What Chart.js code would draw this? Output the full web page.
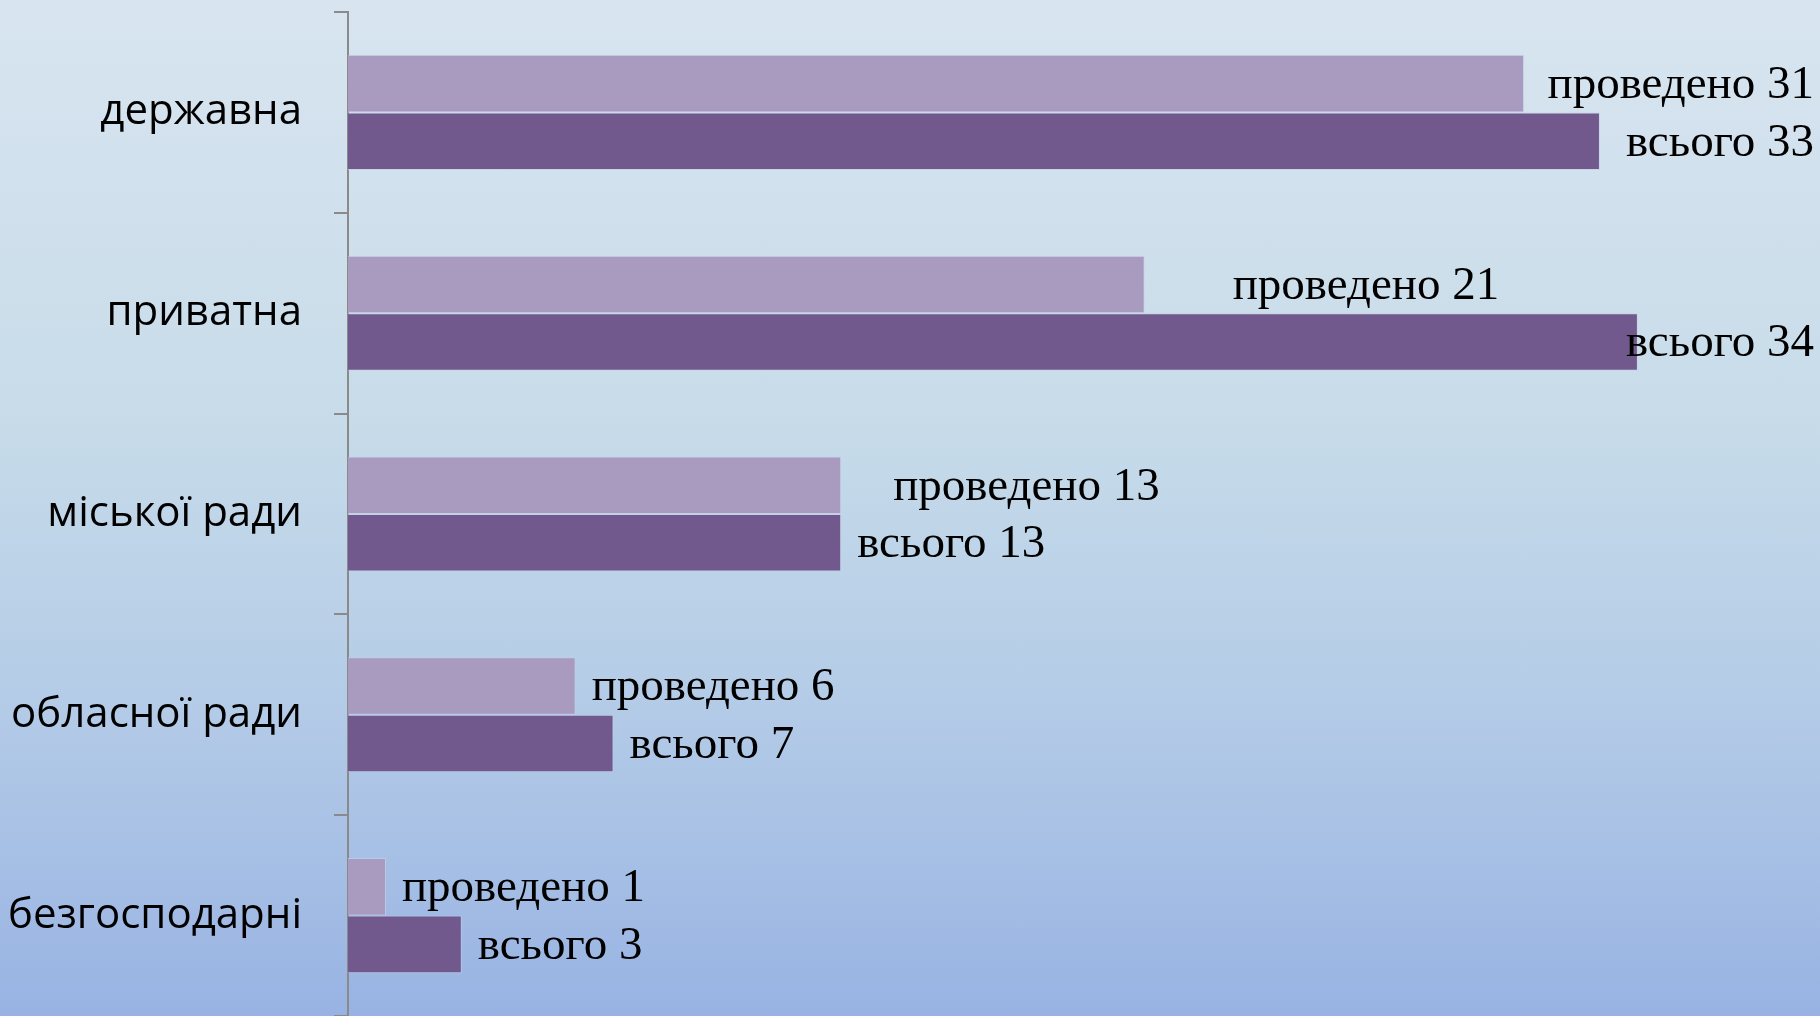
<!DOCTYPE html>
<html>
<head>
<meta charset="utf-8">
<script src="https://cdn.jsdelivr.net/npm/chart.js@4.4.1/dist/chart.umd.min.js"></script>
<style>
    html, body {
        margin: 0;
        padding: 0;
        width: 1820px;
        height: 1016px;
        overflow: hidden;
    }
    body {
        background: linear-gradient(to bottom, #d8e5f0 0%, #c8dce9 40%, #b3cbe7 70%, #98b3e3 100%);
    }
    #chart {
        display: block;
    }
</style>
</head>
<body>
<canvas id="chart" width="1820" height="1016"></canvas>
<script>
// Data
const categories = ['державна', 'приватна', 'міської ради', 'обласної ради', 'безгосподарні'];
const doneValues = [31, 21, 13, 6, 1];
const totalValues = [33, 34, 13, 7, 3];
const doneText = 'проведено';
const totalText = 'всього';

// Small nudges for the value labels (px), the original places some by hand
const doneShift = [8, 72, 36, 0, 0];
const totalShift = [14, 0, 0, 0, 0];

// Draws "проведено N" / "всього N" next to each bar
const valueLabels = {
    id: 'valueLabels',
    afterDatasetsDraw(chart) {
        const ctx = chart.ctx;
        ctx.save();
        ctx.font = '47px "Liberation Serif", "Times New Roman", serif';
        ctx.fillStyle = '#000000';
        ctx.textBaseline = 'middle';
        ctx.textAlign = 'left';
        chart.data.datasets.forEach((ds, di) => {
            const meta = chart.getDatasetMeta(di);
            meta.data.forEach((bar, i) => {
                const text = ds.prefix + ' ' + ds.data[i];
                const w = ctx.measureText(text).width;
                let x = bar.x + 16 + ds.shift[i];
                if (x + w > 1814) {
                    x = 1814 - w;
                }
                ctx.fillText(text, x, bar.y + 2);
            });
        });
        ctx.restore();
    }
};

const ctx = document.getElementById('chart').getContext('2d');
const chart = new Chart(ctx, {
    type: 'bar',
    data: {
        labels: categories,
        datasets: [{
            label: doneText,
            prefix: doneText,
            shift: doneShift,
            data: doneValues,
            backgroundColor: '#a99abf',
            borderColor: 'rgba(200, 205, 230, 0.7)',
            borderWidth: 1,
            borderSkipped: 'left'
        }, {
            label: totalText,
            prefix: totalText,
            shift: totalShift,
            data: totalValues,
            backgroundColor: '#72598d',
            borderColor: 'rgba(200, 205, 230, 0.7)',
            borderWidth: 1,
            borderSkipped: 'left'
        }]
    },
    options: {
        indexAxis: 'y',
        responsive: false,
        animation: false,
        devicePixelRatio: 1,
        categoryPercentage: 0.573,
        barPercentage: 1,
        layout: {
            padding: { top: 12, right: 0, bottom: 0, left: 0 }
        },
        plugins: {
            legend: { display: false },
            tooltip: { enabled: false }
        },
        scales: {
            x: {
                display: false,
                min: 0,
                max: 38.8
            },
            y: {
                afterFit(scale) {
                    // fixed axis position, no extra room above/below
                    scale.width = 348;
                    scale.paddingTop = 0;
                    scale.paddingBottom = 0;
                },
                border: {
                    display: true,
                    color: '#8a8a8a',
                    width: 2
                },
                grid: {
                    display: true,
                    drawOnChartArea: false,
                    drawTicks: true,
                    tickLength: 14,
                    color: '#8a8a8a',
                    lineWidth: 2,
                    offset: true
                },
                ticks: {
                    padding: 32,
                    color: '#000000',
                    font: {
                        family: '"Open Sans", "Noto Sans", sans-serif',
                        size: 42
                    }
                }
            }
        }
    },
    plugins: [valueLabels]
});
</script>
</body>
</html>
